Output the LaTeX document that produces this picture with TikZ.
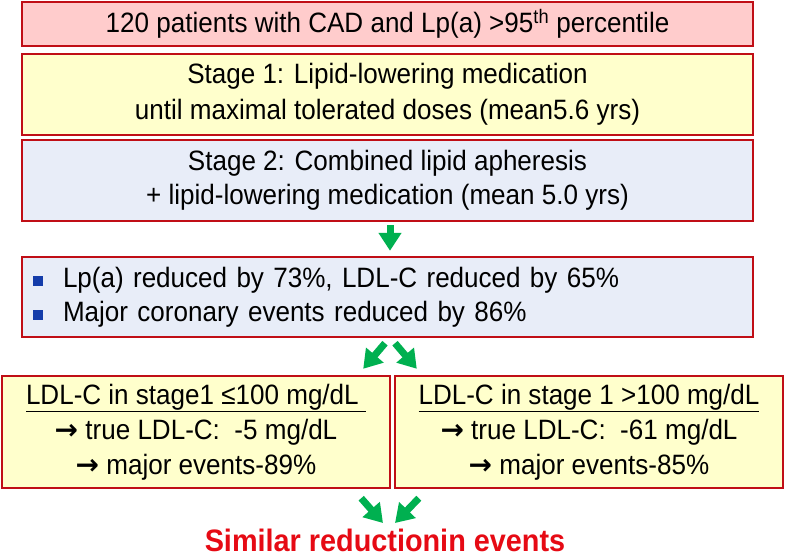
\documentclass[tikz,border=0pt]{standalone}
\usepackage{fontspec}
\setmainfont{Liberation Sans}[FakeStretch=0.93]
\newfontfamily\arrowfont{DejaVu Sans}
\usetikzlibrary{arrows.meta}
\definecolor{boxred}{RGB}{192,14,22}
\definecolor{pinkfill}{RGB}{255,204,204}
\definecolor{yellowfill}{RGB}{255,255,204}
\definecolor{bluefill}{RGB}{232,237,248}
\definecolor{arrowgreen}{RGB}{0,176,80}
\definecolor{titlered}{RGB}{230,10,20}
\definecolor{bulletblue}{RGB}{20,60,170}
\newcommand{\bulletsq}{\textcolor{bulletblue}{\raisebox{1.5pt}{\rule{10pt}{10pt}}}\hspace{20pt}}
\newcommand{\thickarrow}{{\arrowfont\bfseries →}}
\begin{document}
\begin{tikzpicture}[x=1pt, y=-1pt, every node/.style={font=\fontsize{28}{34}\selectfont},
    box/.style={draw=boxred, line width=2.4pt, align=center, inner sep=0pt},
    greenarrow/.style={draw=arrowgreen, line width=7pt, -{Triangle[length=18pt,width=22pt]}}]
    \useasboundingbox (0,0) rectangle (786,557);
    \node[box, fill=pinkfill, minimum width=731pt, minimum height=44pt] (patients) at (387.5,24) {120 patients with CAD and Lp(a) >95\textsuperscript{th} percentile};
    \node[box, fill=yellowfill, minimum width=731pt, minimum height=81pt, font=\fontsize{28}{36}\selectfont] (stageone) at (387.5,94.5) {Stage 1: Lipid-lowering medication\\until maximal tolerated doses (mean5.6 yrs)};
    \node[box, fill=bluefill, minimum width=731pt, minimum height=81pt] (stagetwo) at (387.5,180.5) {Stage 2: Combined lipid apheresis\\+ lipid-lowering medication (mean 5.0 yrs)};
    \node[box, fill=bluefill, text width=709pt, inner xsep=11pt, minimum height=80pt, align=left] (results) at (387.5,297) {\bulletsq Lp(a) reduced by 73\%, LDL-C reduced by 65\%\\\bulletsq Major coronary events reduced by 86\%};
    \node[box, fill=yellowfill, minimum width=388pt, minimum height=112pt, font=\fontsize{28}{35}\selectfont] (lowleft) at (196,432) {\underline{LDL-C in stage1 ≤100 mg/dL\ }\\\thickarrow{} true LDL-C:\ \ -5 mg/dL\\\thickarrow{} major events-89\%};
    \node[box, fill=yellowfill, minimum width=388pt, minimum height=112pt, font=\fontsize{28}{35}\selectfont] (lowright) at (589,432) {\underline{LDL-C in stage 1 >100 mg/dL}\\\thickarrow{} true LDL-C:\ \ -61 mg/dL\\\thickarrow{} major events-85\%};
    \node[text=titlered, inner sep=0pt, font=\fontsize{31}{36}\selectfont\bfseries] (summary) at (385,540) {Similar reductionin events};
    \draw[greenarrow] ([xshift=2.5pt,yshift=-3pt]stagetwo.south) -- ([xshift=2.5pt,yshift=5pt]results.north);
    \draw[greenarrow] ([xshift=-2.5pt,yshift=-5pt]results.south) -- ([xshift=-28pt,yshift=6pt]lowleft.north east);
    \draw[greenarrow] ([xshift=7.5pt,yshift=-5pt]results.south) -- ([xshift=23pt,yshift=6pt]lowright.north west);
    \draw[greenarrow] ([xshift=-30pt,yshift=-9pt]lowleft.south east) -- ([xshift=-2pt,yshift=17pt]summary.center);
    \draw[greenarrow] ([xshift=25pt,yshift=-9pt]lowright.south west) -- ([xshift=10pt,yshift=17pt]summary.center);
\end{tikzpicture}
\end{document}
